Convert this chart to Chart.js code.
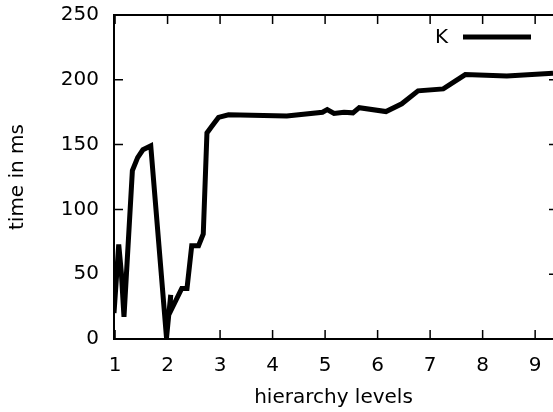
<!DOCTYPE html>
<html>
<head>
<meta charset="utf-8">
<script src="https://cdn.jsdelivr.net/npm/chart.js@4/dist/chart.umd.min.js"></script>
<style>
  html, body { margin: 0; padding: 0; background: #fff; }
  #wrap { width: 553px; height: 412px; }
</style>
</head>
<body>
<div id="wrap"><canvas id="chart" width="553" height="412"></canvas></div>
<script>
// Data
const seriesName = 'K';
const levels = [0.98, 1.07, 1.12, 1.17, 1.33, 1.43, 1.53, 1.68, 1.98, 2.06, 2.04, 2.27, 2.37,
  2.46, 2.59, 2.68, 2.75, 2.84, 2.97, 3.16, 4.27, 4.95, 5.04, 5.17, 5.36, 5.53, 5.65,
  6.16, 6.46, 6.77, 7.25, 7.67, 8.46, 9.34];
const timeMs = [20, 73, 51, 17, 130, 140, 146, 149, 1, 34, 20, 39, 39,
  72, 72, 81, 159, 164, 171, 173, 172, 175, 177, 174, 175, 174.5, 178.5,
  175.5, 181.5, 191.5, 193, 204, 203, 205];
const xTicks = [1, 2, 3, 4, 5, 6, 7, 8, 9];
const yTicks = [0, 50, 100, 150, 200, 250];

const font = { family: 'DejaVu Sans', size: 20 };

// gnuplot-like frame with inward ticks
const frame = {
    id: 'frame',
    beforeDatasetsDraw(chart) {
        const { ctx, chartArea: a, scales: { x, y } } = chart;
        ctx.save();
        ctx.strokeStyle = '#000';
        ctx.lineWidth = 2;
        ctx.beginPath();
        ctx.moveTo(a.right + 6, a.top);
        ctx.lineTo(a.left, a.top);
        ctx.lineTo(a.left, a.bottom);
        ctx.lineTo(a.right + 6, a.bottom);
        ctx.stroke();
        ctx.lineWidth = 1.5;
        ctx.beginPath();
        xTicks.forEach(v => {
            const px = x.getPixelForValue(v);
            ctx.moveTo(px, a.bottom); ctx.lineTo(px, a.bottom - 9);
            ctx.moveTo(px, a.top); ctx.lineTo(px, a.top + 9);
        });
        yTicks.forEach(v => {
            const py = y.getPixelForValue(v);
            ctx.moveTo(a.left, py); ctx.lineTo(a.left + 9, py);
            ctx.moveTo(a.right, py); ctx.lineTo(a.right - 4, py);
        });
        ctx.stroke();
        ctx.restore();
    },
    afterDraw(chart) {
        const { ctx, chartArea: a } = chart;
        const ds = chart.data.datasets[0];
        const ly = a.top + 22;
        ctx.save();
        ctx.fillStyle = '#000';
        ctx.font = font.size + 'px ' + font.family;
        ctx.textAlign = 'right';
        ctx.textBaseline = 'middle';
        ctx.fillText(ds.label, a.right - 105, ly + 1);
        ctx.strokeStyle = ds.borderColor;
        ctx.lineWidth = ds.borderWidth;
        ctx.beginPath();
        ctx.moveTo(a.right - 90, ly);
        ctx.lineTo(a.right - 22, ly);
        ctx.stroke();
        ctx.restore();
    }
};

new Chart(document.getElementById('chart'), {
    type: 'scatter',
    data: {
        datasets: [{
            label: seriesName,
            data: levels.map((v, i) => ({ x: v, y: timeMs[i] })),
            showLine: true,
            borderColor: '#000',
            borderWidth: 5,
            pointRadius: 0,
            tension: 0
        }]
    },
    options: {
        responsive: false,
        animation: false,
        layout: { padding: { top: 15, right: 0, left: 0, bottom: 0 } },
        plugins: { legend: { display: false }, tooltip: { enabled: false } },
        scales: {
            x: {
                type: 'linear',
                min: 0.98,
                max: 9.34,
                afterBuildTicks: s => { s.ticks = xTicks.map(v => ({ value: v })); },
                afterFit: s => { s.height = 73; s.paddingLeft = 0; s.paddingRight = 0; },
                grid: { display: false, drawTicks: false },
                border: { display: false },
                ticks: { color: '#000', font, padding: 15 },
                title: { display: true, text: 'hierarchy levels', color: '#000', font, padding: { top: 0, bottom: 2 } }
            },
            y: {
                min: 0,
                max: 250,
                afterBuildTicks: s => { s.ticks = yTicks.map(v => ({ value: v })); },
                afterFit: s => { s.width = 114; s.paddingTop = 0; s.paddingBottom = 0; },
                grid: { display: false, drawTicks: false },
                border: { display: false },
                ticks: { color: '#000', font, padding: 15 },
                title: { display: true, text: 'time in ms', color: '#000', font, padding: { top: 6, bottom: 0 } }
            }
        }
    },
    plugins: [frame]
});
</script>
</body>
</html>
